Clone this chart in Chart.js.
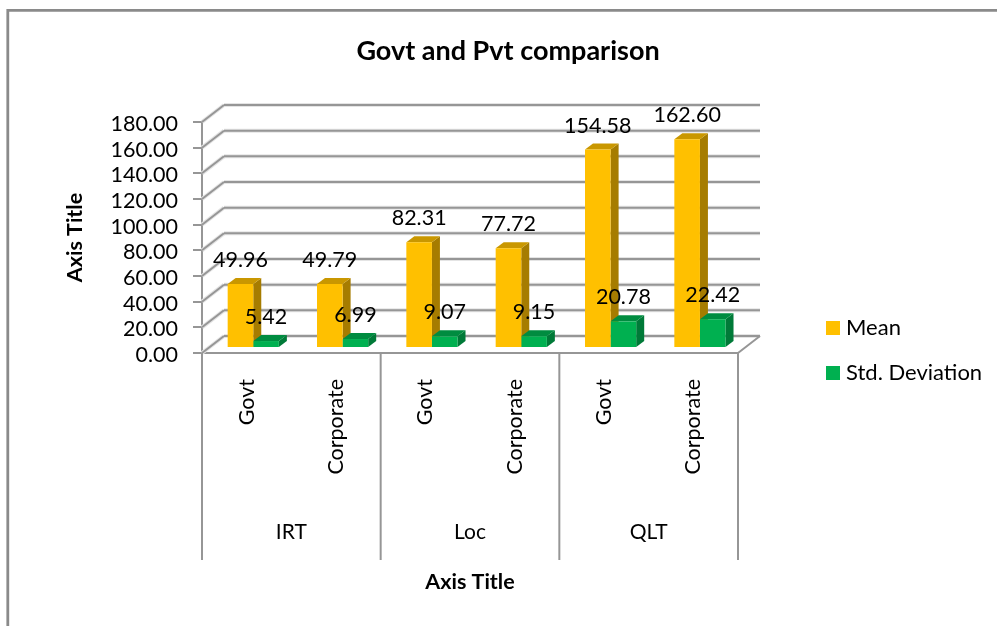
<!DOCTYPE html>
<html>
<head>
<meta charset="utf-8">
<title>Govt and Pvt comparison</title>
<script src="https://cdn.jsdelivr.net/npm/chart.js@4/dist/chart.umd.min.js"></script>
<style>
    html, body { margin: 0; padding: 0; background: #fff; }
    #wrap { width: 997px; height: 626px; position: relative; }
</style>
</head>
<body>
<div id="wrap"><canvas id="chart" width="997" height="626"></canvas></div>
<script>
const categories = ['Govt', 'Corporate', 'Govt', 'Corporate', 'Govt', 'Corporate'];
const groups = ['IRT', 'Loc', 'QLT'];
const meanValues = [49.96, 49.79, 82.31, 77.72, 154.58, 162.60];
const stdValues = [5.42, 6.99, 9.07, 9.15, 20.78, 22.42];

const FONT = 'Lato';
const AXIS_GREY = '#969696';

// 3D look: back wall offset and bar depth, in pixels
const WALL = { x: 22, y: -17 };
const BAR_SHIFT = { x: 6.6, y: -5 };
const DEPTH = { x: 8, y: -6 };

const faces = {
    Mean: { front: '#FFC000', top: '#C99700', side: '#A67C00' },
    'Std. Deviation': { front: '#00B050', top: '#008C40', side: '#007A38' }
};

function line(ctx, x1, y1, x2, y2) {
    ctx.beginPath();
    ctx.moveTo(x1, y1);
    ctx.lineTo(x2, y2);
    ctx.stroke();
}

function poly(ctx, pts, color) {
    ctx.fillStyle = color;
    ctx.beginPath();
    pts.forEach((p, i) => i ? ctx.lineTo(p[0], p[1]) : ctx.moveTo(p[0], p[1]));
    ctx.closePath();
    ctx.fill();
}

// Back wall gridlines, side wall diagonals, floor and outer frame
const wallPlugin = {
    id: 'wall',
    afterLayout(chart) {
        // the title is centred on the whole object, not on the plot
        const shift = (997 + 19) / 2 - (chart.titleBlock.left + chart.titleBlock.right) / 2;
        chart.titleBlock.left += shift;
        chart.titleBlock.right += shift;
    },
    beforeDatasetsDraw(chart) {
        const { ctx, chartArea: a, scales: { y } } = chart;
        ctx.save();

        // outer frame of the chart object
        ctx.strokeStyle = '#8a8a8a';
        ctx.lineWidth = 2.8;
        ctx.beginPath();
        ctx.moveTo(7.8, 626);
        ctx.lineTo(7.8, 10.3);
        ctx.lineTo(997, 10.3);
        ctx.stroke();

        y.ticks.forEach(t => {
            const py = y.getPixelForValue(t.value);
            // soft halo under the gridline
            ctx.strokeStyle = '#e4e4e4';
            ctx.lineWidth = 4;
            line(ctx, a.left + WALL.x, py + WALL.y, a.right + WALL.x, py + WALL.y);
            line(ctx, a.left, py, a.left + WALL.x, py + WALL.y);
            ctx.strokeStyle = AXIS_GREY;
            ctx.lineWidth = 2;
            line(ctx, a.left + WALL.x, py + WALL.y, a.right + WALL.x, py + WALL.y);
            line(ctx, a.left, py, a.left + WALL.x, py + WALL.y);
        });
        const y0 = y.getPixelForValue(0);
        line(ctx, a.right, y0, a.right + WALL.x, y0 + WALL.y);
        ctx.restore();
    }
};

// Side and top faces, and the shift of the bars off the front edge.
// Chart.js paints the last dataset first, so the faces all go down before any front.
const bar3dPlugin = {
    id: 'bar3d',
    beforeDatasetsDraw(chart) {
        const { ctx } = chart;
        ctx.save();
        ctx.translate(BAR_SHIFT.x, BAR_SHIFT.y);
        chart.data.datasets.forEach((ds, i) => {
            const c = faces[ds.label];
            chart.getDatasetMeta(i).data.forEach(bar => {
                const r = bar.x + bar.width / 2;
                const l = bar.x - bar.width / 2;
                poly(ctx, [[r, bar.y], [r + DEPTH.x, bar.y + DEPTH.y], [r + DEPTH.x, bar.base + DEPTH.y], [r, bar.base]], c.side);
                poly(ctx, [[l, bar.y], [l + DEPTH.x, bar.y + DEPTH.y], [r + DEPTH.x, bar.y + DEPTH.y], [r, bar.y]], c.top);
            });
        });
        ctx.restore();
    },
    beforeDatasetDraw(chart) {
        chart.ctx.save();
        chart.ctx.translate(BAR_SHIFT.x, BAR_SHIFT.y);
    },
    afterDatasetDraw(chart) {
        chart.ctx.restore();
    }
};

// Value labels, y tick labels, group row of the category axis, and the legend
const overlayPlugin = {
    id: 'overlay',
    afterDraw(chart) {
        const { ctx, chartArea: a, scales: { x, y } } = chart;
        ctx.save();

        ctx.font = '21.5px ' + FONT;
        ctx.fillStyle = '#000';
        ctx.textAlign = 'center';
        ctx.textBaseline = 'middle';
        chart.data.datasets.forEach((ds, i) => {
            chart.getDatasetMeta(i).data.forEach((bar, j) => {
                ctx.fillText(ds.data[j].toFixed(2), bar.x + BAR_SHIFT.x, bar.y + BAR_SHIFT.y - 24);
            });
        });

        // y labels sit a little under their tick marks
        ctx.textAlign = 'right';
        y.ticks.forEach(t => ctx.fillText(t.label, 178, y.getPixelForValue(t.value) + 2));
        ctx.textAlign = 'center';

        // separators and names of the outer category level
        const perGroup = categories.length / groups.length;
        const step = x.getPixelForValue(1) - x.getPixelForValue(0);
        ctx.strokeStyle = AXIS_GREY;
        ctx.lineWidth = 2;
        ctx.font = '21px ' + FONT;
        groups.forEach((name, g) => {
            const left = x.getPixelForValue(g * perGroup) - step / 2;
            const right = left + step * perGroup;
            line(ctx, left, a.bottom, left, 560);
            if (g === groups.length - 1) line(ctx, right, a.bottom, right, 560);
            ctx.fillStyle = '#000';
            ctx.fillText(name, (left + right) / 2, 532);
        });

        // legend
        ctx.font = '22px ' + FONT;
        ctx.textAlign = 'left';
        chart.data.datasets.forEach((ds, i) => {
            const cy = 328 + i * 45;
            ctx.fillStyle = faces[ds.label].front;
            ctx.fillRect(826, cy - 7, 14, 14);
            ctx.fillStyle = '#000';
            ctx.fillText(ds.label, 846, cy);
        });
        ctx.restore();
    }
};

new Chart(document.getElementById('chart'), {
    type: 'bar',
    data: {
        labels: categories,
        datasets: [
            { label: 'Mean', data: meanValues, backgroundColor: faces.Mean.front },
            { label: 'Std. Deviation', data: stdValues, backgroundColor: faces['Std. Deviation'].front }
        ]
    },
    options: {
        responsive: false,
        animation: false,
        layout: { padding: { left: 62, right: 259, top: 0, bottom: 31 } },
        datasets: { bar: { categoryPercentage: 0.573, barPercentage: 1, clip: false } },
        plugins: {
            legend: { display: false },
            tooltip: { enabled: false },
            title: {
                display: true,
                text: 'Govt and Pvt comparison',
                color: '#000',
                font: { family: FONT, size: 27, weight: 'bold' },
                padding: { top: 35, bottom: 54.6 },
                align: 'center'
            }
        },
        scales: {
            x: {
                afterFit(scale) { scale.height = 242; },
                grid: { display: false },
                border: { color: AXIS_GREY, width: 2 },
                ticks: {
                    color: '#000',
                    font: { family: FONT, size: 21.5 },
                    minRotation: 90,
                    maxRotation: 90,
                    autoSkip: false,
                    padding: 18
                },
                title: {
                    display: true,
                    text: 'Axis Title',
                    color: '#000',
                    font: { family: FONT, size: 21.5, weight: 'bold' },
                    padding: 0
                }
            },
            y: {
                min: 0,
                max: 180,
                afterFit(scale) { scale.width = 140; },
                grid: { drawOnChartArea: false, color: AXIS_GREY, lineWidth: 2, tickLength: 9 },
                border: { color: AXIS_GREY, width: 2 },
                ticks: {
                    display: false,
                    stepSize: 20,
                    autoSkip: false,
                    callback: v => v.toFixed(2)
                },
                title: {
                    display: true,
                    text: 'Axis Title',
                    color: '#000',
                    font: { family: FONT, size: 21.5, weight: 'bold' },
                    padding: 0
                }
            }
        }
    },
    plugins: [wallPlugin, bar3dPlugin, overlayPlugin]
});
</script>
</body>
</html>
